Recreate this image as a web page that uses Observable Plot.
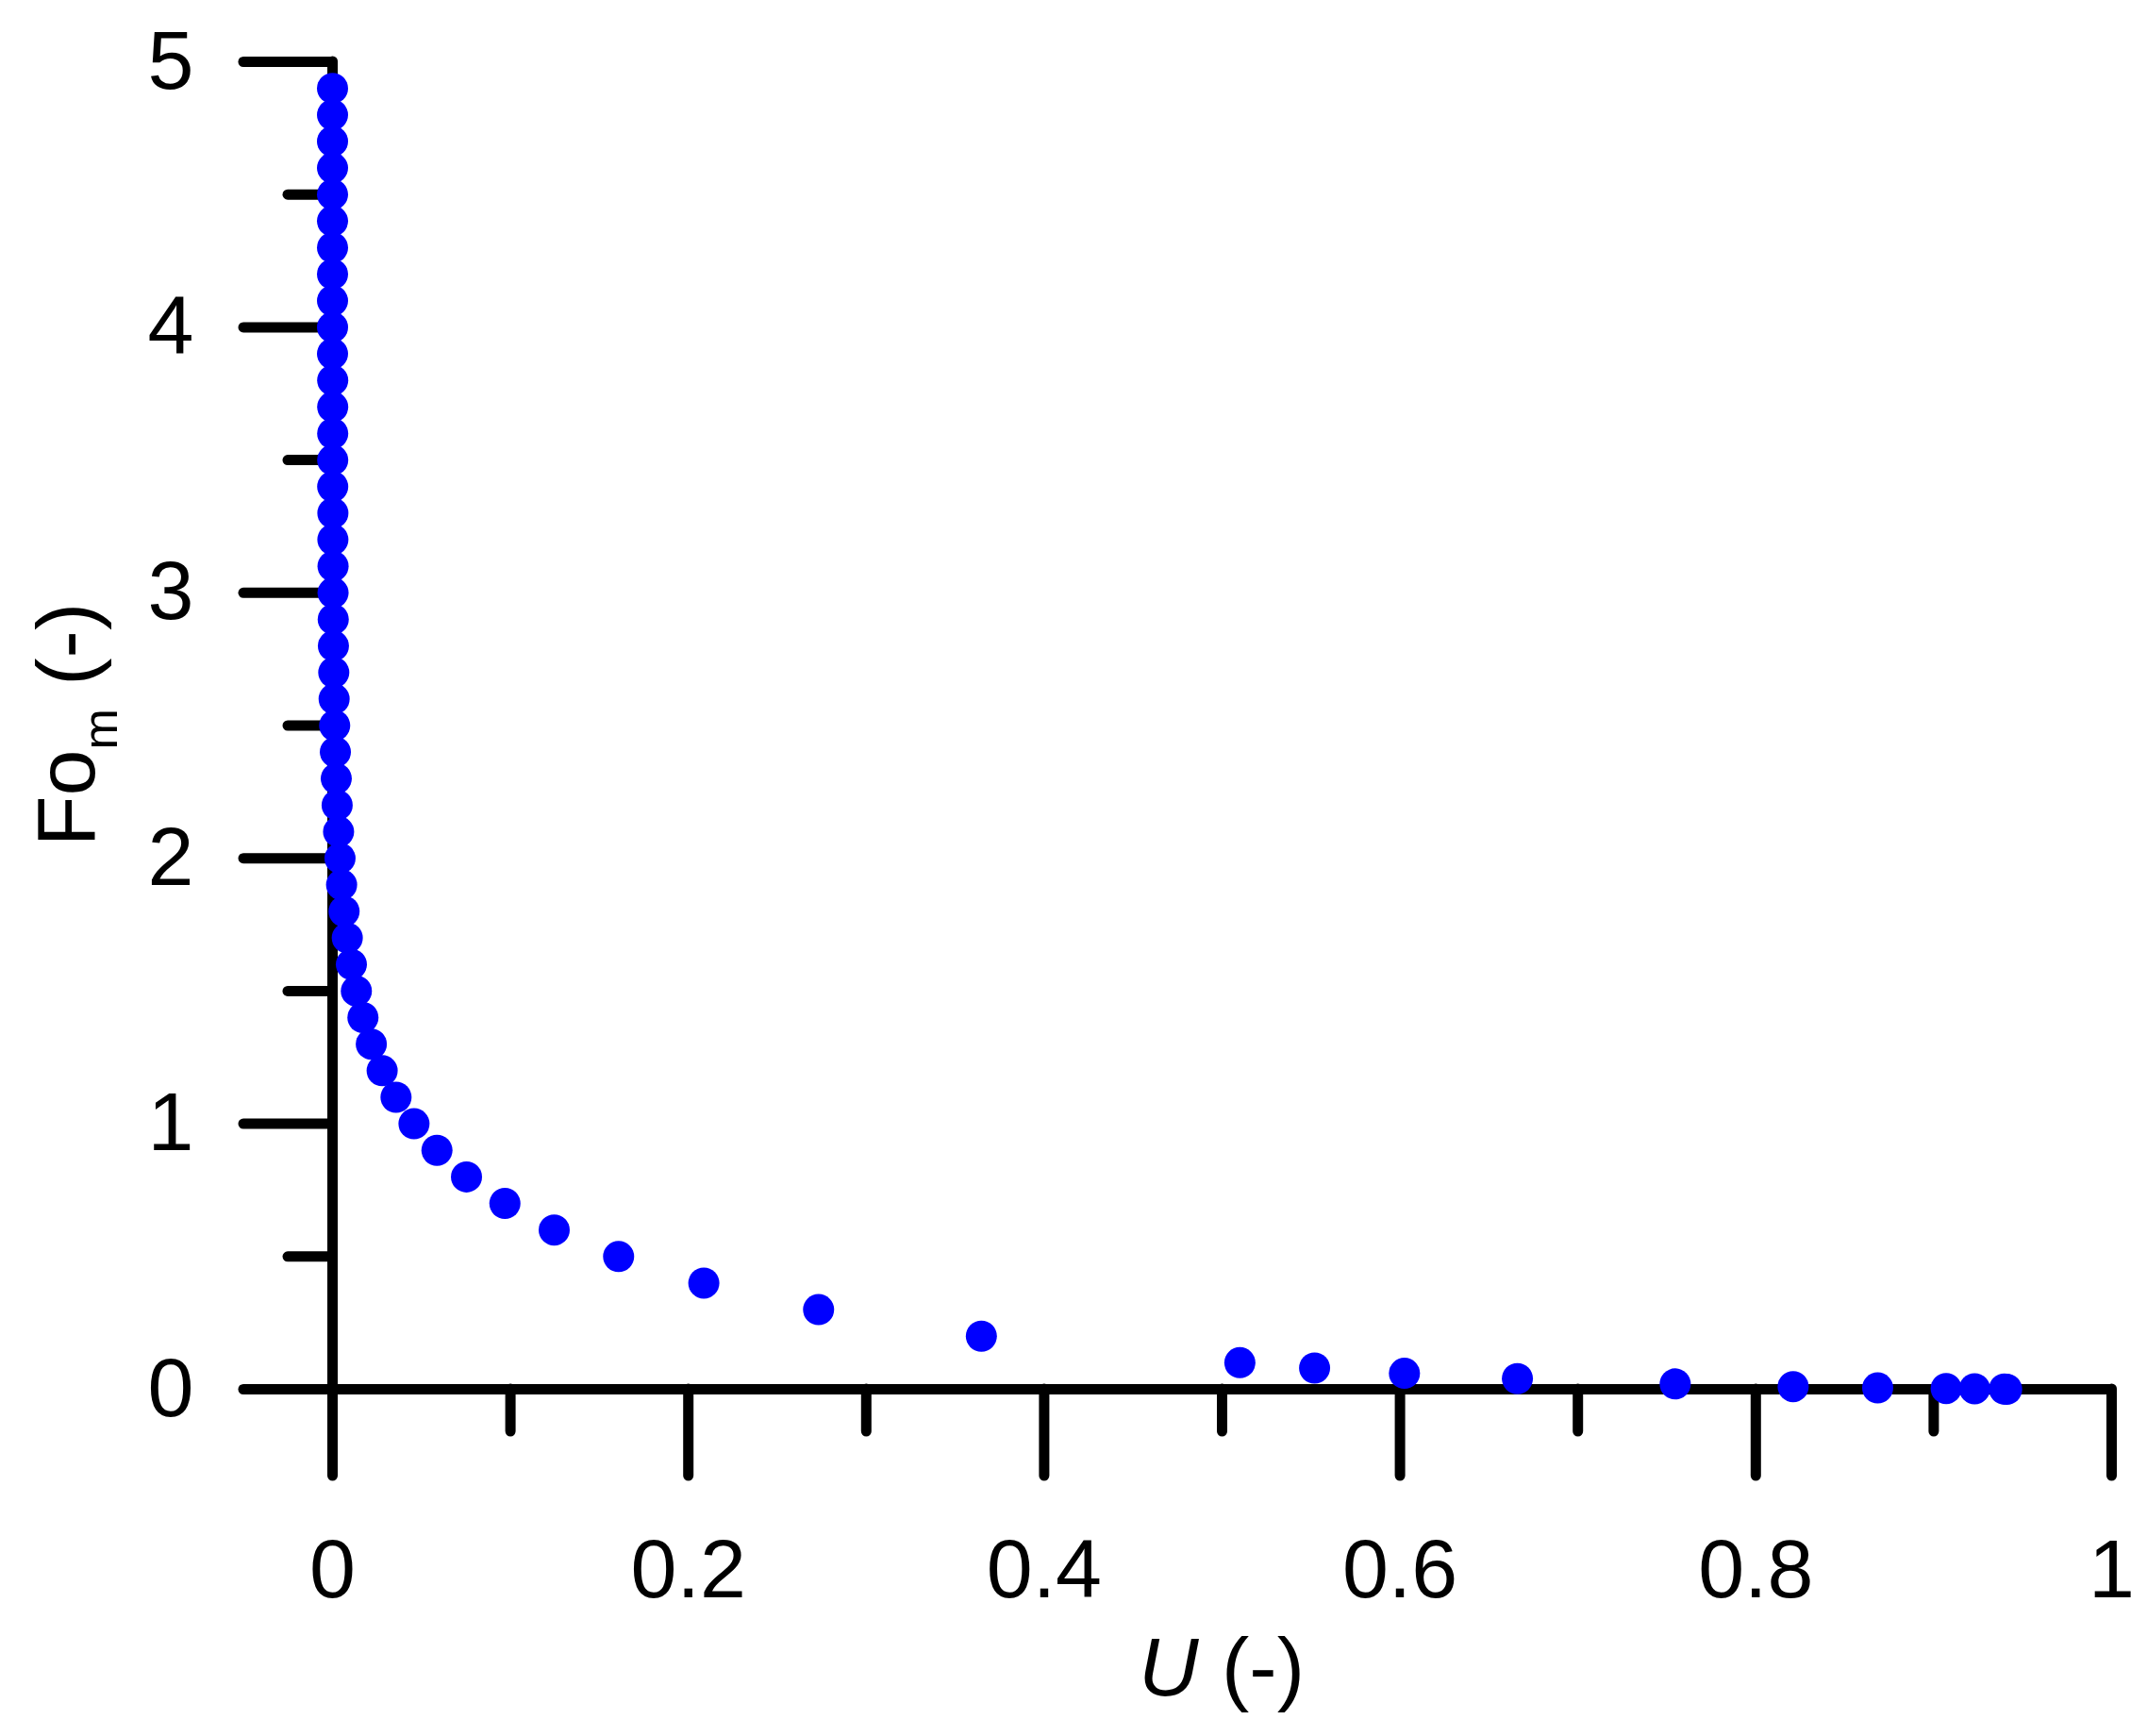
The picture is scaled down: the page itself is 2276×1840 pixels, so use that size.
<!DOCTYPE html>
<html>
<head>
<meta charset="utf-8">
<script src="https://cdn.jsdelivr.net/npm/d3@7"></script>
<script src="https://cdn.jsdelivr.net/npm/@observablehq/plot@0.6"></script>
<style>
  html, body { margin: 0; padding: 0; background: white; }
  #chart svg { display: block; }
</style>
</head>
<body>
<div id="chart"></div>
<script>
// Fourier number (y) and degree of consolidation U (x)
const fo = [4.9, 4.8, 4.7, 4.6, 4.5, 4.4, 4.3, 4.2, 4.1, 4.0,
            3.9, 3.8, 3.7, 3.6, 3.5, 3.4, 3.3, 3.2, 3.1, 3.0,
            2.9, 2.8, 2.7, 2.6, 2.5, 2.4, 2.3, 2.2, 2.1, 2.0,
            1.9, 1.8, 1.7, 1.6, 1.5, 1.4, 1.3, 1.2, 1.1, 1.0,
            0.9, 0.8, 0.7, 0.6, 0.5, 0.4, 0.3, 0.2, 0.1,
            0.08, 0.06, 0.04, 0.02, 0.01, 0.005, 0.003, 0.002, 0.001, 0.0];
const u  = [0.0000, 0.0000, 0.0000, 0.0000, 0.0000, 0.0000, 0.0000, 0.0000, 0.0000, 0.0000,
            0.0000, 0.0001, 0.0001, 0.0001, 0.0001, 0.0001, 0.0002, 0.0002, 0.0003, 0.0003,
            0.0004, 0.0005, 0.0007, 0.0009, 0.0012, 0.0016, 0.0021, 0.0026, 0.0034, 0.0042,
            0.0051, 0.0065, 0.0083, 0.0106, 0.0134, 0.0171, 0.0218, 0.0279, 0.0357, 0.0458,
            0.0587, 0.0753, 0.0969, 0.1246, 0.1608, 0.2087, 0.2732, 0.3647, 0.510,
            0.552, 0.6025, 0.666, 0.7547, 0.821, 0.8685, 0.907, 0.923, 0.9397, 0.941];

const xMajor = [0, 0.2, 0.4, 0.6, 0.8, 1];
const xMinor = [0.1, 0.3, 0.5, 0.7, 0.9];
const xLabels = ["0", "0.2", "0.4", "0.6", "0.8", "1"];
const yMajor = [0, 1, 2, 3, 4, 5];
const yMinor = [0.5, 1.5, 2.5, 3.5, 4.5];
const yLabels = ["0", "1", "2", "3", "4", "5"];

const points = fo.map((f, i) => ({U: u[i], Fo: f}));

const FONT = "'Liberation Sans', Arial, Helvetica, sans-serif";
const lineOpts = {strokeWidth: 11, strokeLinecap: "round", stroke: "black", label: null};

const svg = Plot.plot({
  width: 2276,
  height: 1840,
  marginLeft: 352,
  marginRight: 38,
  marginTop: 65,
  marginBottom: 368,
  style: {fontFamily: FONT, fontSize: "88px", color: "black", background: "white", overflow: "visible"},
  x: {domain: [0, 1]},
  y: {domain: [0, 5]},
  marks: [
    Plot.ruleX([0], {strokeWidth: 11, strokeLinecap: "round"}),
    Plot.ruleY([0], {strokeWidth: 11, strokeLinecap: "round"}),
    Plot.axisX(xMajor, {...lineOpts, tickSize: 92, tickFormat: () => ""}),
    Plot.axisX(xMinor, {...lineOpts, tickSize: 45, tickFormat: () => ""}),
    Plot.axisY(yMajor, {...lineOpts, tickSize: 94, tickFormat: () => ""}),
    Plot.axisY(yMinor, {...lineOpts, tickSize: 47, tickFormat: () => ""}),
    Plot.axisX(xMajor, {tickSize: 0, tickPadding: 158, label: null, fontSize: 88,
      tickFormat: (d, i) => xLabels[xMajor.indexOf(d)]}),
    Plot.axisY(yMajor, {tickSize: 0, tickPadding: 147, label: null, fontSize: 88,
      tickFormat: (d) => yLabels[yMajor.indexOf(d)]}),
    Plot.dot(points, {x: "U", y: "Fo", r: 16.5, fill: "#0000ff", stroke: null})
  ]
});

const s = d3.select(svg);
// x axis title: italic U (-)
const xt = s.append("text")
  .attr("x", 1295).attr("y", 1797)
  .attr("text-anchor", "middle")
  .attr("font-family", FONT).attr("font-size", 88).attr("fill", "black");
xt.append("tspan").attr("font-style", "italic").text("U");
xt.append("tspan").text(" (-)");

// y axis title: Fo_m (-), rotated
const yt = s.append("text")
  .attr("transform", "translate(100,768) rotate(-90)")
  .attr("text-anchor", "middle")
  .attr("font-family", FONT).attr("font-size", 88).attr("fill", "black");
yt.append("tspan").text("Fo");
yt.append("tspan").attr("font-size", 52).attr("dy", 24).text("m");
yt.append("tspan").attr("dy", -24).text(" (-)");

document.getElementById("chart").appendChild(svg);
</script>
</body>
</html>
